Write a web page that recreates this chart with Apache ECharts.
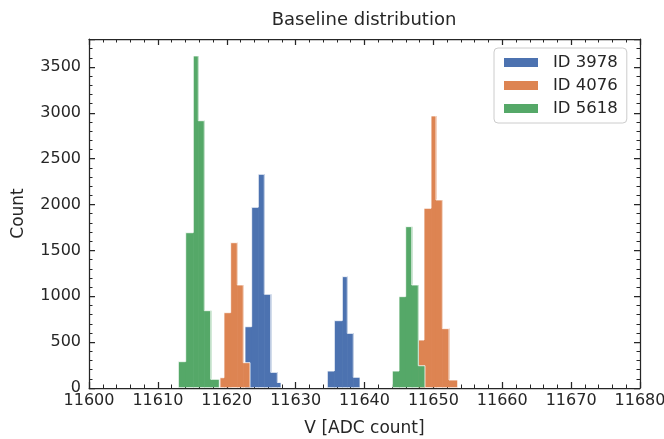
<!DOCTYPE html>
<html>
<head>
<meta charset="utf-8">
<script src="https://cdn.jsdelivr.net/npm/echarts@6/dist/echarts.min.js"></script>
<style>
  html, body { margin: 0; padding: 0; background: #ffffff; }
  #chart { width: 664px; height: 439px; }
</style>
</head>
<body>
<div id="chart"></div>
<script>
// Histogram of baseline ADC values for three channels, drawn as filled steps.
// Each channel is stored as contiguous runs of bins: edges (n+1 values) and counts (n values).
const seriesNames = ['ID 3978', 'ID 4076', 'ID 5618'];
const seriesColors = ['#4c72b0', '#dd8452', '#55a868'];

const edges3978 = [
  [11622.65, 11623.62, 11624.58, 11625.45, 11626.38, 11627.34, 11627.88],
  [11634.60, 11635.62, 11636.78, 11637.50, 11638.37, 11639.35]
];
const counts3978 = [
  [668, 1970, 2330, 1022, 171, 60],
  [185, 734, 1214, 596, 117]
];

const edges4076 = [
  [11619.02, 11619.60, 11620.57, 11621.53, 11622.40, 11623.38],
  [11647.77, 11648.64, 11649.66, 11650.38, 11651.30, 11652.27, 11653.53]
];
const counts4076 = [
  [112, 821, 1584, 1123, 276],
  [523, 1959, 2966, 2050, 647, 87]
];

const edges5618 = [
  [11612.97, 11614.04, 11615.14, 11615.87, 11616.74, 11617.67, 11618.92],
  [11644.04, 11645.01, 11645.98, 11646.86, 11647.81, 11648.78]
];
const counts5618 = [
  [287, 1693, 3620, 2914, 843, 95],
  [185, 996, 1759, 1123, 243]
];

// Axis ranges and tick steps
const xMin = 11600, xMax = 11680, xStep = 10;
const yMin = 0, yMax = 3805, yStep = 500;

const textColor = '#262626';
const fontFamily = 'DejaVu Sans';

// Flatten runs into [left, right, count, previousCount, isLastOfRun]
function toBins(edgeRuns, countRuns) {
  const out = [];
  edgeRuns.forEach(function (edges, r) {
    const counts = countRuns[r];
    counts.forEach(function (n, i) {
      out.push([edges[i], edges[i + 1], n, i > 0 ? counts[i - 1] : 0, i === counts.length - 1 ? 1 : 0]);
    });
  });
  return out;
}

function renderBin(params, api) {
  const x0 = api.value(0), x1 = api.value(1), n = api.value(2);
  const nPrev = api.value(3), last = api.value(4);
  const top = api.coord([x0, n]);
  const base = api.coord([x1, 0]);
  const lift = 0.7;
  // slight overlap into the next bin hides anti-aliasing seams inside a run
  const overlap = last ? 0 : 0.6;
  const rect = {
    type: 'rect',
    shape: { x: top[0], y: top[1], width: base[0] - top[0] + overlap, height: base[1] - top[1] - lift },
    style: { fill: api.visual('color') }
  };
  const pts = [api.coord([x0, nPrev]), api.coord([x0, n]), api.coord([x1, n])];
  if (last) pts.push(api.coord([x1, 0]));
  pts.forEach(function (p) { if (p[1] > base[1] - lift) p[1] = base[1] - lift; });
  const outline = {
    type: 'polyline',
    shape: { points: pts },
    style: { stroke: '#ffffff', lineWidth: 0.8, fill: null }
  };
  return { type: 'group', children: [rect, outline] };
}

const binSets = [
  toBins(edges3978, counts3978),
  toBins(edges4076, counts4076),
  toBins(edges5618, counts5618)
];

const lineStyle = { color: textColor, width: 1.25 };
const plainNumber = function (v) { return String(v); };

function xAxisDef(pos, main) {
  return {
    type: 'value', position: pos, min: xMin, max: xMax, interval: xStep,
    axisLine: { show: true, onZero: false, lineStyle: lineStyle },
    axisTick: { show: true, inside: true, length: 6, lineStyle: lineStyle },
    minorTick: { show: true, splitNumber: 5, length: 3.5, lineStyle: { color: textColor, width: 1 } },
    axisLabel: { show: main, margin: 5, color: textColor, fontSize: 16, fontFamily: fontFamily, formatter: plainNumber },
    splitLine: { show: false },
    name: main ? 'V [ADC count]' : '',
    nameLocation: 'middle', nameGap: 32,
    nameTextStyle: { color: textColor, fontSize: 17, fontFamily: fontFamily }
  };
}

function yAxisDef(pos, main) {
  return {
    type: 'value', position: pos, min: yMin, max: yMax, interval: yStep,
    axisLine: { show: true, onZero: false, lineStyle: lineStyle },
    axisTick: { show: true, inside: true, length: 6, lineStyle: lineStyle },
    minorTick: { show: true, splitNumber: 5, length: 3.5, lineStyle: { color: textColor, width: 1 } },
    axisLabel: { show: main, margin: 8, color: textColor, fontSize: 16, fontFamily: fontFamily, showMaxLabel: false, formatter: plainNumber },
    splitLine: { show: false },
    name: main ? 'Count' : '',
    nameLocation: 'middle', nameGap: 62, nameRotate: 90,
    nameTextStyle: { color: textColor, fontSize: 17, fontFamily: fontFamily }
  };
}

const chart = echarts.init(document.getElementById('chart'), null, { renderer: 'canvas' });
chart.setOption({
  animation: false,
  backgroundColor: '#ffffff',
  title: {
    text: 'Baseline distribution',
    left: 364, top: 11, textAlign: 'center', padding: 0,
    textStyle: { color: textColor, fontSize: 18, fontWeight: 'normal', fontFamily: fontFamily }
  },
  grid: { left: 89, right: 24, top: 39, bottom: 51, containLabel: false, outerBoundsMode: 'none' },
  legend: {
    orient: 'vertical', left: 494, top: 48,
    data: seriesNames, icon: 'rect', itemWidth: 34, itemHeight: 9, itemGap: 6,
    padding: [6, 9, 6, 10],
    backgroundColor: '#ffffff', borderColor: '#cccccc', borderWidth: 1, borderRadius: 4,
    textStyle: { color: textColor, fontSize: 16.5, fontFamily: fontFamily, padding: [0, 0, 0, 10] }
  },
  xAxis: [xAxisDef('bottom', true), xAxisDef('top', false)],
  yAxis: [yAxisDef('left', true), yAxisDef('right', false)],
  series: binSets.map(function (bins, i) {
    return {
      type: 'custom', name: seriesNames[i], xAxisIndex: 0, yAxisIndex: 0,
      itemStyle: { color: seriesColors[i] },
      encode: { x: [0, 1], y: 2 },
      renderItem: renderBin,
      data: bins
    };
  })
});
</script>
</body>
</html>
